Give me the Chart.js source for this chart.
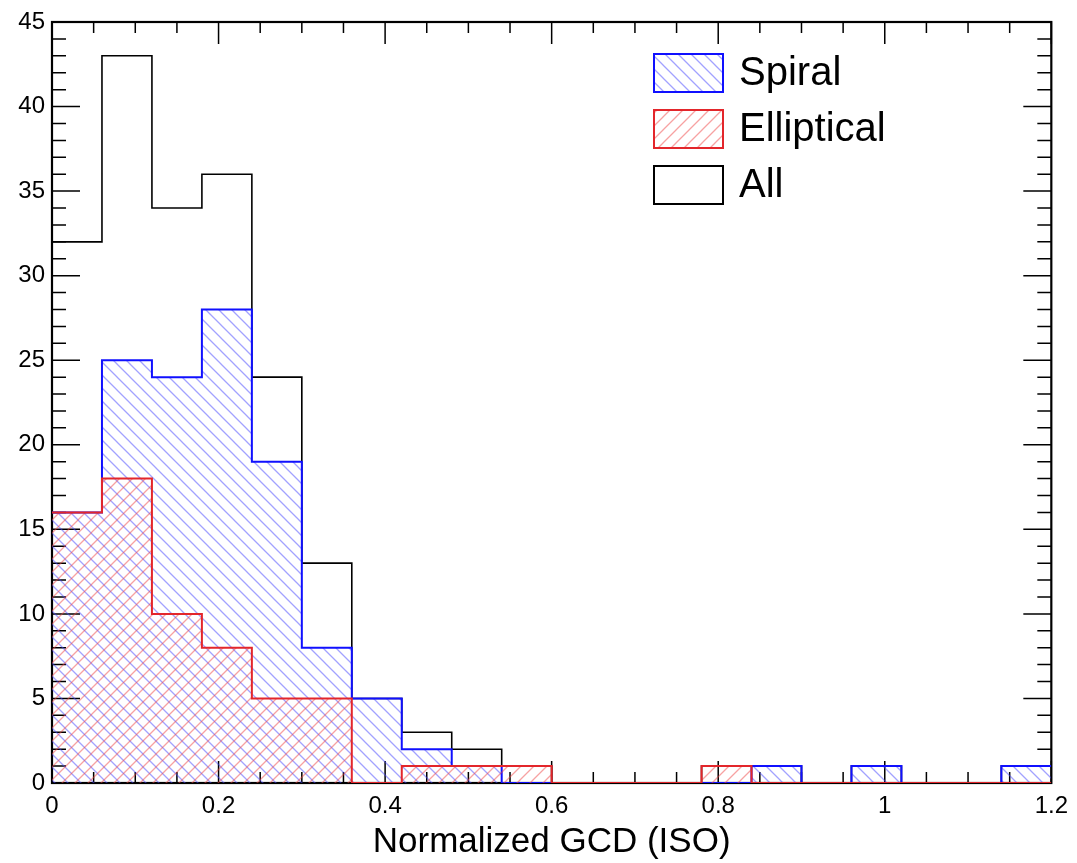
<!DOCTYPE html>
<html>
<head>
<meta charset="utf-8">
<script src="https://cdn.jsdelivr.net/npm/chart.js@4.4.1/dist/chart.umd.min.js"></script>
<style>
  body { margin: 0; background: #fff; }
  canvas { display: block; }
</style>
</head>
<body>
<canvas id="gcdChart" width="1077" height="863"></canvas>
<script>
// bin edges of the histogram (width 0.06)
const binEdges = [0, 0.06, 0.12, 0.18, 0.24, 0.30, 0.36, 0.42, 0.48, 0.54, 0.60,
                  0.66, 0.72, 0.78, 0.84, 0.90, 0.96, 1.02, 1.08, 1.14, 1.20];

// counts per bin
const spiral     = [16, 25, 24, 28, 19, 8, 5, 2, 1, 0, 0, 0, 0, 0, 1, 0, 1, 0, 0, 1];
const elliptical = [16, 18, 10, 8, 5, 5, 0, 1, 1, 1, 0, 0, 0, 1, 0, 0, 0, 0, 0, 0];
const allGal     = [32, 43, 34, 36, 24, 13, 5, 3, 2, 1, 0, 0, 0, 1, 1, 0, 1, 0, 0, 1];

const xTicks = [0, 0.2, 0.4, 0.6, 0.8, 1, 1.2];
const yTicks = [0, 5, 10, 15, 20, 25, 30, 35, 40, 45];

const FONT = "'Liberation Sans', Arial, Helvetica, sans-serif";

// turn counts into step points (left edge of each bin + last right edge)
function toSteps(counts) {
  const pts = counts.map((c, i) => ({ x: binEdges[i], y: c }));
  pts.push({ x: binEdges[binEdges.length - 1], y: counts[counts.length - 1] });
  return pts;
}

// diagonal hatch pattern, dir '\\' or '/'
function hatch(color, dir) {
  const s = 13;
  const c = document.createElement('canvas');
  c.width = s; c.height = s;
  const g = c.getContext('2d');
  g.strokeStyle = color;
  g.lineWidth = 1.3;
  g.beginPath();
  if (dir === '\\') {
    g.moveTo(0, 0); g.lineTo(s, s);
    g.moveTo(-2, s - 2); g.lineTo(2, s + 2);
    g.moveTo(s - 2, -2); g.lineTo(s + 2, 2);
  } else {
    g.moveTo(0, s); g.lineTo(s, 0);
    g.moveTo(-2, 2); g.lineTo(2, -2);
    g.moveTo(s - 2, s + 2); g.lineTo(s + 2, s - 2);
  }
  g.stroke();
  return g.createPattern(c, 'repeat');
}

const blueHatch = hatch('rgba(70,70,255,0.5)', '\\');
const redHatch = hatch('rgba(240,70,70,0.5)', '/');

// ROOT-like frame with inward ticks on all four sides
const frameTicks = {
  id: 'frameTicks',
  beforeDatasetsDraw(chart) {
    const { ctx, chartArea: a, scales } = chart;
    ctx.save();
    ctx.strokeStyle = '#000';
    ctx.lineWidth = 1.5;
    ctx.beginPath();
    for (let v = 0; v <= 45; v++) {
      const py = scales.y.getPixelForValue(v);
      const len = v % 5 === 0 ? 28 : 14;
      ctx.moveTo(a.left, py); ctx.lineTo(a.left + len, py);
      ctx.moveTo(a.right, py); ctx.lineTo(a.right - len, py);
    }
    for (let k = 0; k <= 24; k++) {
      const px = scales.x.getPixelForValue(k * 0.05);
      const len = k % 4 === 0 ? 22 : 11;
      ctx.moveTo(px, a.bottom); ctx.lineTo(px, a.bottom - len);
      ctx.moveTo(px, a.top); ctx.lineTo(px, a.top + len);
    }
    ctx.stroke();
    ctx.lineWidth = 2.2;
    ctx.strokeRect(a.left, a.top, a.right - a.left, a.bottom - a.top);
    ctx.restore();
  }
};

// legend box in upper right of the frame
const boxLegend = {
  id: 'boxLegend',
  afterDatasetsDraw(chart) {
    const { ctx } = chart;
    const entries = [chart.data.datasets[1], chart.data.datasets[0], chart.data.datasets[2]];
    ctx.save();
    ctx.font = '40px ' + FONT;
    ctx.textBaseline = 'middle';
    entries.forEach((ds, i) => {
      const bx = 654, by = 54 + i * 56, bw = 69, bh = 38;
      ctx.fillStyle = ds.backgroundColor;
      ctx.fillRect(bx, by, bw, bh);
      ctx.strokeStyle = ds.borderColor;
      ctx.lineWidth = 2;
      ctx.strokeRect(bx, by, bw, bh);
      ctx.fillStyle = '#000';
      ctx.fillText(ds.label, 739, by + bh / 2 + 1);
    });
    ctx.restore();
  }
};

new Chart(document.getElementById('gcdChart'), {
  type: 'line',
  data: {
    datasets: [
      {
        label: 'Elliptical',
        data: toSteps(elliptical),
        stepped: 'before',
        borderColor: '#e3262b',
        borderWidth: 2,
        backgroundColor: redHatch,
        fill: 'origin',
        pointRadius: 0,
        order: 1
      },
      {
        label: 'Spiral',
        data: toSteps(spiral),
        stepped: 'before',
        borderColor: '#1010ff',
        borderWidth: 2,
        backgroundColor: blueHatch,
        fill: 'origin',
        pointRadius: 0,
        order: 2
      },
      {
        label: 'All',
        data: toSteps(allGal),
        stepped: 'before',
        borderColor: '#000',
        borderWidth: 1.6,
        backgroundColor: '#fff',
        fill: false,
        pointRadius: 0,
        order: 3
      }
    ]
  },
  options: {
    responsive: false,
    animation: false,
    layout: { padding: { top: 22, right: 24, left: 0, bottom: 0 } },
    plugins: {
      legend: { display: false },
      tooltip: { enabled: false }
    },
    scales: {
      x: {
        type: 'linear',
        min: 0,
        max: 1.2,
        afterBuildTicks: s => { s.ticks = xTicks.map(v => ({ value: v })); },
        afterFit: s => { s.height = 80; },
        grid: { display: false, drawTicks: false },
        border: { display: false },
        ticks: {
          color: '#000',
          font: { family: FONT, size: 24 },
          padding: 9,
          maxRotation: 0,
          callback: v => String(v)
        },
        title: {
          display: true,
          text: 'Normalized GCD (ISO)',
          color: '#000',
          font: { family: FONT, size: 35 },
          padding: { top: 0, bottom: 0 }
        }
      },
      y: {
        min: 0,
        max: 45,
        afterBuildTicks: s => { s.ticks = yTicks.map(v => ({ value: v })); },
        afterFit: s => { s.width = 52; },
        grid: { display: false, drawTicks: false },
        border: { display: false },
        ticks: {
          color: '#000',
          font: { family: FONT, size: 24 },
          padding: 7
        }
      }
    }
  },
  plugins: [frameTicks, boxLegend]
});
</script>
</body>
</html>
